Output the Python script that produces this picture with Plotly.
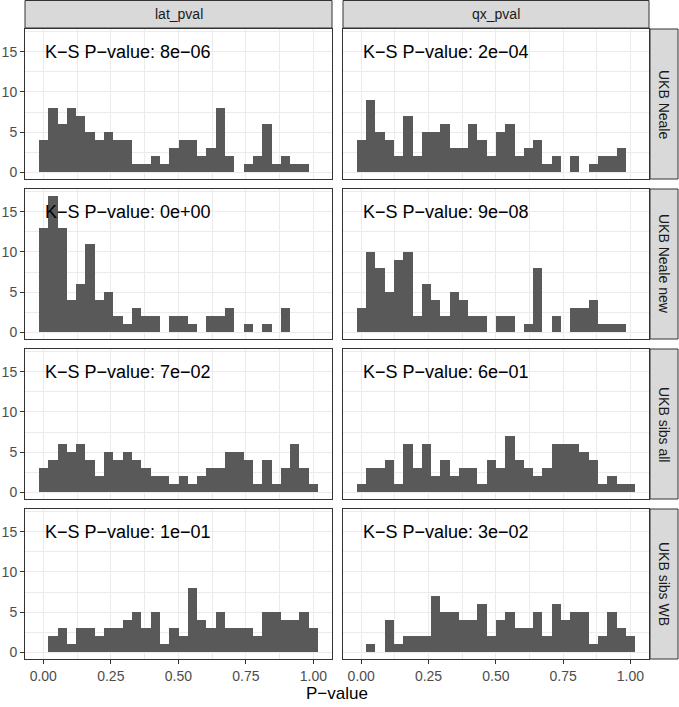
import plotly.graph_objects as go

# ---- data (histogram counts, 30 shared bins) ----
bin_start = -0.0160
bin_width = 0.03444
n_bins = 30

columns = ["lat_pval", "qx_pval"]
rows = ["UKB Neale", "UKB Neale new", "UKB sibs all", "UKB sibs WB"]

lat_neale = [4, 8, 6, 8, 7, 5, 4, 5, 4, 4, 1, 1, 2, 1, 3, 4, 4, 2, 3, 8, 2, 0, 1, 2, 6, 1, 2, 1, 1, 0]
qx_neale = [4, 9, 5, 4, 2, 7, 2, 5, 5, 6, 3, 3, 6, 4, 2, 5, 6, 2, 3, 4, 1, 2, 0, 2, 0, 1, 2, 2, 3, 0]
lat_neale_new = [13, 17, 13, 4, 6, 11, 4, 5, 2, 1, 3, 2, 2, 0, 2, 2, 1, 0, 2, 2, 3, 0, 1, 0, 1, 0, 3, 0, 0, 0]
qx_neale_new = [3, 10, 8, 5, 9, 10, 2, 6, 4, 2, 5, 4, 2, 2, 0, 2, 2, 0, 1, 8, 0, 2, 0, 3, 3, 4, 1, 1, 1, 0]
lat_sibs_all = [3, 4, 6, 5, 6, 4, 2, 5, 4, 5, 4, 3, 2, 2, 1, 2, 1, 2, 3, 3, 5, 5, 4, 1, 4, 1, 3, 6, 3, 1]
qx_sibs_all = [1, 3, 3, 4, 1, 6, 3, 6, 2, 4, 2, 3, 3, 1, 4, 3, 7, 4, 3, 2, 3, 6, 6, 6, 5, 4, 1, 2, 1, 1]
lat_sibs_wb = [0, 2, 3, 1, 3, 3, 2, 3, 3, 4, 5, 3, 5, 1, 3, 2, 8, 4, 3, 5, 3, 3, 3, 2, 5, 5, 4, 4, 5, 3]
qx_sibs_wb = [0, 1, 0, 4, 1, 2, 2, 2, 7, 5, 5, 4, 4, 6, 2, 4, 5, 3, 3, 5, 2, 6, 4, 5, 5, 1, 2, 5, 3, 2]

panel_counts = [
    [lat_neale, qx_neale],
    [lat_neale_new, qx_neale_new],
    [lat_sibs_all, qx_sibs_all],
    [lat_sibs_wb, qx_sibs_wb],
]
ks_labels = [
    ["K−S P−value: 8e−06", "K−S P−value: 2e−04"],
    ["K−S P−value: 0e+00", "K−S P−value: 9e−08"],
    ["K−S P−value: 7e−02", "K−S P−value: 6e−01"],
    ["K−S P−value: 1e−01", "K−S P−value: 3e−02"],
]
x_tick_vals = [0, 0.25, 0.5, 0.75, 1.0]
x_tick_text = ["0.00", "0.25", "0.50", "0.75", "1.00"]
y_tick_vals = [0, 5, 10, 15]
x_title = "P−value"

# ---- layout geometry (pixels) ----
W, H = 679, 707
col_px = [(25, 332), (343, 649)]
row_px = [(29, 179), (189, 339), (349, 499), (509, 659)]
FONT = "Liberation Sans, Arial, sans-serif"
GRID = "#EBEBEB"
BORDER = "#333333"

def px(x):
    return x / W

def py(y):
    return 1 - y / H

centers = [bin_start + (i + 0.5) * bin_width for i in range(n_bins)]
lo, hi = bin_start, bin_start + n_bins * bin_width
pad = 0.05 * (hi - lo)
x_range = [lo - pad, hi + pad]
ymax = max(max(c) for r in panel_counts for c in r)
y_range = [-0.05 * ymax, ymax * 1.05]

fig = go.Figure()
shapes = []
annotations = []
layout_axes = {}

for r in range(4):
    for c in range(2):
        k = r * 2 + c + 1
        xa = "x" if k == 1 else f"x{k}"
        ya = "y" if k == 1 else f"y{k}"
        fig.add_trace(go.Bar(
            x=centers, y=panel_counts[r][c], width=bin_width,
            marker=dict(color="#595959", line=dict(width=0)),
            xaxis=xa, yaxis=ya, showlegend=False, hoverinfo="x+y",
        ))
        bottom = (r == 3)
        left = (c == 0)
        layout_axes[f"xaxis{'' if k == 1 else k}"] = dict(
            domain=[px(col_px[c][0]), px(col_px[c][1])],
            anchor=ya, range=x_range, tickmode="array",
            tickvals=x_tick_vals, ticktext=x_tick_text,
            showticklabels=bottom, ticks="outside" if bottom else "",
            ticklen=4, tickwidth=1, tickcolor=BORDER,
            tickfont=dict(family=FONT, size=14, color="#4D4D4D"),
            showgrid=True, gridcolor=GRID, gridwidth=1.1,
            minor=dict(tickmode="linear", tick0=0.125, dtick=0.25,
                       showgrid=True, gridcolor=GRID, gridwidth=0.55),
            zeroline=False, showline=True, mirror=True,
            linecolor=BORDER, linewidth=1, fixedrange=True,
        )
        layout_axes[f"yaxis{'' if k == 1 else k}"] = dict(
            domain=[py(row_px[r][1]), py(row_px[r][0])],
            anchor=xa, range=y_range, tickmode="array",
            tickvals=y_tick_vals, ticktext=[str(v) for v in y_tick_vals],
            showticklabels=left, ticks="outside" if left else "",
            ticklen=4, tickwidth=1, tickcolor=BORDER,
            tickfont=dict(family=FONT, size=14, color="#4D4D4D"),
            showgrid=True, gridcolor=GRID, gridwidth=1.1,
            minor=dict(tickmode="linear", tick0=2.5, dtick=5,
                       showgrid=True, gridcolor=GRID, gridwidth=0.55),
            zeroline=False, showline=True, mirror=True,
            linecolor=BORDER, linewidth=1, fixedrange=True,
        )
        annotations.append(dict(
            x=0, y=15, xref=xa, yref=ya, text=ks_labels[r][c],
            showarrow=False, xanchor="left", yanchor="middle",
            font=dict(family=FONT, size=18, color="black"),
        ))

# top strips
for c in range(2):
    x0, x1 = col_px[c]
    shapes.append(dict(type="rect", xref="paper", yref="paper",
                       x0=px(x0), x1=px(x1), y0=py(28), y1=py(0.5),
                       fillcolor="#D9D9D9", line=dict(color=BORDER, width=1), layer="below"))
    annotations.append(dict(x=px((x0 + x1) / 2), y=py(14.5), xref="paper", yref="paper",
                            text=columns[c], showarrow=False, xanchor="center", yanchor="middle",
                            font=dict(family=FONT, size=14, color="#1A1A1A")))
# right strips
for r in range(4):
    y0, y1 = row_px[r]
    shapes.append(dict(type="rect", xref="paper", yref="paper",
                       x0=px(650), x1=px(678), y0=py(y1), y1=py(y0),
                       fillcolor="#D9D9D9", line=dict(color=BORDER, width=1), layer="below"))
    annotations.append(dict(x=px(664), y=py((y0 + y1) / 2), xref="paper", yref="paper",
                            text=rows[r], showarrow=False, textangle=90,
                            xanchor="center", yanchor="middle",
                            font=dict(family=FONT, size=14, color="#1A1A1A")))

# x axis title
annotations.append(dict(x=px((col_px[0][0] + col_px[1][1]) / 2), y=py(693), xref="paper", yref="paper",
                        text=x_title, showarrow=False, xanchor="center", yanchor="middle",
                        font=dict(family=FONT, size=17, color="black")))

fig.update_layout(
    width=W, height=H, margin=dict(l=0, r=0, t=0, b=0),
    paper_bgcolor="white", plot_bgcolor="white",
    shapes=shapes, annotations=annotations, bargap=0,
    **layout_axes,
)

fig.write_html(
    "out.html",
    config={"displayModeBar": False},
    post_script="document.body.style.margin='0';document.body.style.overflow='hidden';",
)
